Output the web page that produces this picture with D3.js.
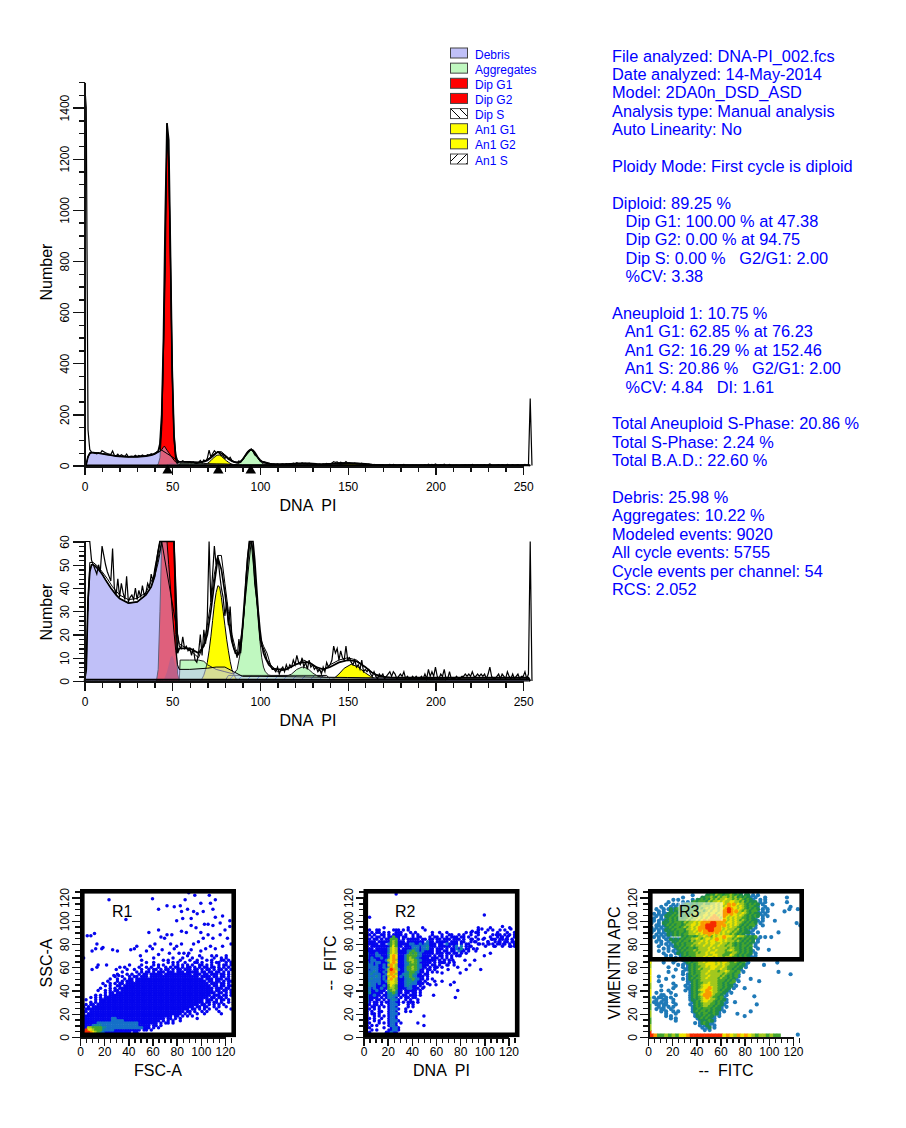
<!DOCTYPE html>
<html><head><meta charset="utf-8">
<script src="https://cdn.jsdelivr.net/npm/d3@7"></script>
<style>
html,body{margin:0;padding:0;background:#fff}
svg{display:block}
text{font-family:"Liberation Sans",Arial,sans-serif;fill:#000}
.axis path,.axis line{stroke:#111;stroke-width:1.4;shape-rendering:crispEdges}
.axis path{stroke-width:2}
</style></head><body>
<svg id="c" width="906" height="1128"></svg>
<script>
// ---------- histogram data ----------
const rawCounts = [
1500,1400,140,62,52,50,48,46,50,47, 58,54,50,47,45,43,57,40,37,44,
36,42,38,35,45,34,36,37,35,40, 35,39,36,41,37,38,42,40,46,43,
48,52,56,72,170,460,760,1340,1180,800, 370,120,42,20,15,14,19,14,15,13,
14,11,14,9,8,12,20,11,22,16, 28,60,34,46,58,50,54,46,40,36,
28,34,24,32,19,14,13,10,18,12, 22,30,44,54,60,65,56,42,36,30,
18,15,14,12,9,8,7,5,5,4, 6,3,5,6,4,7,5,7,6,9,
7,11,8,7,10,6,8,5,9,6, 7,5,6,4,5,3,6,4,8,6,
7,9,15,12,14,9,13,10,9,15, 9,10,8,7,9,6,7,5,9,4,
5,4,5,3,2,4,2,1,3,2, 3,1,2,3,4,2,4,3,1,2,
3,2,4,1,2,1,1,2,1,2, 1,1,2,1,3,1,5,2,4,2,
6,2,1,3,2,5,1,1,4,1, 1,1,2,1,1,2,2,3,2,3,
2,4,2,2,3,2,3,2,3,1, 3,6,2,1,1,2,3,1,3,2,
1,4,2,1,3,1,2,3,1,2, 2,4,1,3,262,0];
const debris = [[0,0],[1,5],[2,35],[3,47],[4,50],[5,50],[6,49.5],[8,48],[10,46],[12,43.5],[15,40],[18,37],[20,35.5],[25,33.5],[30,34],[35,37],[38,40.5],[40,45],[42,51],[43,55],[44,62],[45,72],[45.5,76],[47,60],[48,50],[49,40],[50,30],[51,21],[52,13],[53,7],[54,5],[60,5],[70,5.5],[75,6],[80,6],[85,4],[90,2],[100,2],[150,1.5],[200,1],[253,1],[254,0]];
const aggregates = [[54,0],[54.5,9],[60,9],[65,9],[68,8.5],[70,7],[75,5],[80,4],[85,3],[87,5],[88,9],[89,13],[90,20],[91,30],[92,40],[93,50],[94,58],[95,61],[96,57],[97,48],[98,37],[99,26],[100,17],[101,10],[102,6],[103,4],[105,2.5],[110,2],[115,2],[118,3],[121,5],[124,6],[127,5.5],[130,3.5],[133,2],[138,1.5],[170,1],[205,1],[206,0]];
const aggregateBump = [[45,0],[46,2],[47,4],[48,7],[49,10],[50,11],[51,9],[52,6],[53,3],[54,0]];
const dipG1 = [[41,0],[42,5],[43,30],[44,140],[45,430],[46,897],[47,1263],[48,1207],[49,778],[50,340],[51,100],[52,20],[53,3],[54,0]];
const anG1 = [[66,0],[67,1],[68,2.5],[69,5],[70,8],[71,13],[72,19],[73,26],[74,33],[75,38],[76,41],[77,40.5],[78,36],[79,30],[80,24],[81,18],[82,13],[83,8.5],[84,5],[85,3],[86,1.5],[87,0]];
const anG2 = [[138,0],[142,1],[145,3],[148,5.5],[152,7.2],[156,6],[160,3.5],[163,2],[168,0]];
const anS = [[80,0],[82,2.4],[90,2.4],[100,2.4],[120,2.4],[138,2.4],[141,0]];
const fitLine = [[0,0],[1,5],[2,35],[3,47],[4,50],[5,50],[6,49.5],[8,48],[10,46],[12,43.5],[15,40],[18,37],[20,35.5],[25,33.5],[30,34],[35,37],[38,40.5],[40,45],[42,56],[43,85],[44,200],[45,496],[46,969],[47,1339],[48,1273],[49,826],[50,372],[51,120],[52,32],[53,12],[54,14],[55,14],[60,14],[65,12],[68,15],[70,20],[72,30],[74,42],[76,53],[78,48],[80,38],[82,26],[84,17],[86,12],[88,12],[89,16],[90,23],[91,33],[92,43],[93,53],[94,60],[95,62],[96,60],[97,52],[98,41],[99,30],[100,22],[101,16],[102,12],[103,10],[105,7],[107,5.5],[110,5],[115,5],[120,7],[124,8],[128,8],[132,6],[136,5],[140,6],[145,8],[150,9],[155,8.5],[160,6],[164,3.5],[168,2],[175,1.5],[253,1.5],[254,0]];
const smoothLine = [[2,30],[3,51],[5,51],[8,49],[10,47],[13,44],[16,40.5],[20,37],[25,35],[30,35.5],[35,38],[40,46],[44,60],[54,16],[58,14],[62,12],[65,10],[68,16],[70,24],[72,34],[74,46],[76,54],[78,54],[80,42],[82,30],[84,20],[86,14],[88,11],[90,23],[95,62],[100,19],[102,15],[104,12],[106,7],[110,4],[115,5],[120,7],[125,9],[130,7],[135,4],[140,7],[145,9],[150,10],[155,9],[160,6],[165,3],[170,2]];
const peakMarkers = [47.38,76.23,94.75];
const topTicksMajor = [0,200,400,600,800,1000,1200,1400];
const lowTicksMajor = [0,10,20,30,40,50,60];
const chTicksMajor = [0,50,100,150,200,250];
const legendNames = ["Debris","Aggregates","Dip G1","Dip G2","Dip S","An1 G1","An1 G2","An1 S"];
const legendFills = ["#c0c0f8","#c0f8c0","#ff0000","#ff0000","url(#hatchB)","#ffff00","#ffff00","url(#hatchF)"];
const reportLines = ["File analyzed: DNA-PI_002.fcs","Date analyzed: 14-May-2014","Model: 2DA0n_DSD_ASD","Analysis type: Manual analysis","Auto Linearity: No","","Ploidy Mode: First cycle is diploid","","Diploid: 89.25 %","   Dip G1: 100.00 % at 47.38","   Dip G2: 0.00 % at 94.75","   Dip S: 0.00 %   G2/G1: 2.00","   %CV: 3.38","","Aneuploid 1: 10.75 %","   An1 G1: 62.85 % at 76.23","   An1 G2: 16.29 % at 152.46","   An1 S: 20.86 %   G2/G1: 2.00","   %CV: 4.84   DI: 1.61","","Total Aneuploid S-Phase: 20.86 %","Total S-Phase: 2.24 %","Total B.A.D.: 22.60 %","","Debris: 25.98 %","Aggregates: 10.22 %","Modeled events: 9020","All cycle events: 5755","Cycle events per channel: 54","RCS: 2.052"];

// ---------- scatter data: one row per y value, each character one dot at x=1,3,5...
const levelColors = {b:"#0505ee",l:"#1570c8",t:"#128a98",s:"#1f7ab8",d:"#1e8c4c",g:"#45a52e",h:"#a3c81e",y:"#ece400",o:"#fa9a00",r:"#f52a00"};
const levelRank = {b:0,s:0,l:1,t:1,d:2,g:2,h:2,y:2,o:3,r:4};
const r1Rows = {
70:"............................................b....b....b.b...b..b",
68:"..............................b.......b...b...b...b....b..b.b...",
66:".........................b........b.b....b...b..b...b.b...bb.b.b",
64:"...........................b..b.....b.b.b..b...bb.b...b.bb..b.b.",
62:"....................b....b....b.b.b...b.b.b.b.b..bb.b.b..b.bb.b",
60:"........................b..b.b..b..b.b.bb.b.bb.b.b.bb.bb.b.b.b.b",
58:"...................b..b..b..b.bb.b.bb.b.bb.bbb.bb.b.bb.b.bb.b.bb",
56:".................b.....b.b.bb.b.bbb.bbb.bbb.bbbbb.bb.bb.bb.b.b.b",
54:"...............b...b.b..b.bb.bbbbb.bbbbbbbbbbb.bbb.bb.bbb.bb.b.b",
52:"..............b..b..b.bb.bbb.bbbbbbbbbbbbbbbbbbbb.bbbb.bb.bb.b.b",
50:"............b..b..b.bb.bbbbbbbbbbbbbbbbbbbbbbbbbbbb.bbb.bbb.bb.b",
48:"...........b...b.b.bbb.bbbbbbbbbbbbbbbbbbbbbbbbbbbbb.bb.bb.b.bb.",
46:".........b..b.b.bb.bbbbbbbbbbbbbbbbbbbbbbbbbbbbbbbbbb.bbb.bb.b.b",
44:"..........b.b..bb.bbbbbbbbbbbbbbbbbbbbbbbbbbbbbbbbbbbb.bb.bb.bb.",
42:"........b...b.b.bbbbbbbbbbbbbbbbbbbbbbbbbbbbbbbbbbbbbbb.bbb.bb.b",
40:".......b..b.b.bb.bbbbbbbbbbbbbbbbbbbbbbbbbbbbbbbbbbbbbb.bb.bb.b.",
38:"..........b.bb.bbbbbbbbbbbbbbbbbbbbbbbbbbbbbbbbbbbbbbbbb.bb.b.bb",
36:"......b.b.b.bbbbbbbbbbbbbbbbbbbbbbbbbbbbbbbbbbbbbbbbbb.bbb.bb.b.",
34:"....b.b.b.bbbbbbbbbbbbbbbbbbbbbbbbbbbbbbbbbbbbbbbbbbb.bb.bb.b..b",
32:"b.b...b.bbbbbbbbbbbbbbbbbbbbbbbbbbbbbbbbbbbbbbbbbbb.bbb.b.bb.b..",
30:"b...b.b.bbbbbbbbbbbbbbbbbbbbbbbbbbbbbbbbbbbbbbbbbbb.bb.bb.b..b.b",
28:"b.b.bb.bbbbbbbbbbbbbbbbbbbbbbbbbbbbbbbbbbbbbbbbbb.bb.b.b.b.b...b",
26:"bb.b.bbbbbbbbbbbbbbbbbbbbbbbbbbbbbbbbbbbbbbbbbb.bb.bb..b.b..b...",
24:"b.bbbbbbbbbbbbbbbbbbbbbbbbbbbbbbbbbbbbbbbbbbb.bb.b.b.b..b.....b.",
22:"bbb.bbbbbbbbbbbbbbbbbbbbbbbbbbbbbbbbbbbbbbb.bb.b..b.b....b......",
20:"bb.bbbbbbbbbbbbbbbbbbbbbbbbbbbbbbbbbbbbbbb.b.b..b..b......b.....",
18:"bbbbbbbbbbbbbbbbbbbbbbbbbbbbbbbbbbbbbb.bb.b.b.b.................",
16:"bbbbbbbbbbbbbllbbbbbbbbbbbbbbbbbbbb.bb.b.b......b...............",
14:"bbbbbbbbbbbbblllllbbbbbbbbbbbbbbb.b.b.b..b......................",
12:"bbbbbbblllllllllllllllllbbbbbbbb.b.bb.b.........................",
10:"bbbbbltttlllllllllllllllbbbbb.bb.b..............................",
8:"bbbhhggggttlllllllllllllllbbb.b.b...............................",
6:"bbryyhgggtllllbbbbbbbbbbb.bb.b...................................",
4:"brrroyhgtlbbbbbbbbbbb.bb........................................",
2:".rrrobb.b..b.b.b................................................"};
const r1Points = [[24,118],[38,101],[6,87],[9,87],[12,89],[14,80],[10,74],[13,76],[18,76],[19,77],[27,75],[31,74],[42,75],[45,76],[47,78],[3,68],[15,62],[22,62],[10,58],[14,60],[30,58],[33,60],[37,60],[28,53],[32,53],[50,70],[55,74],[58,78],[60,76],[65,71],[68,75],[62,80],[57,90],[65,92],[67,86],[70,85],[72,88],[75,80],[78,76],[80,78],[84,80],[86,72],[90,72],[74,72],[82,72],[92,75],[94,80],[98,82],[102,85],[106,88],[110,85],[116,88],[120,92],[124,95],[118,78],[112,76],[108,78],[104,76],[100,74],[122,85],[125,80],[110,96],[106,97],[103,97],[100,90],[96,94],[92,96],[88,90],[84,91],[80,100],[76,88],[85,102],[92,102],[97,106],[94,108],[89,110],[84,108],[102,108],[108,115],[110,110],[112,118],[107,122],[100,115],[95,122],[90,124],[87,118],[83,113],[78,112],[72,113],[65,110],[60,119],[112,103],[118,104],[124,100],[116,98],[94,2]];
const r2Rows = {
96:"b...............................................................",
94:"b.......b.........b.....b......................b....b.......b...",
92:"b.b..bb.....bbb.b.b......b.....................b...b.b..b.b.....",
90:".b.b.bb.b.b..bbb...b.b......b..b..b.......b.b.bb..b....b...b..b.",
88:"b.b.b..bb.b.bbbb.b..b.b.....b...b..bb..b.b..b..b.....b.bb.b.b.b.",
86:"bb.b.bb.b.bbgbb.bb..b.bb...b.bb.b.b.bbb.bb.b..b.....b..b.b.b..bb",
84:"bbb.bb.b.bbgggb.b.bbbbb.bb.bb.bb.bbb.bbb.b..b..b.b...bb.bb.b.b.b",
82:"b.bbb.bbbbbghgbbb.bbbbbbb.lbb.bbbbb.bbb.bb..b.b....b..b.b.bb.b.",
80:"bbbbbb.bb.lghgbbbbbllbblbllbbb.bb.lbbbb.b.bb...b.b.b.b.bb.b.b.b.",
78:"bb.bbbbbbbbgygbb.bbblllblltbbb.bbbbb.bl.l.b.b.....b...b..b..b.b.",
76:"bbbb.bbbbblhyhb.bbbbltlblltbb.bbb.b.bblbt.bb.b..................",
74:"lbbbbbbbbblhyhbbbbltgtlblbbbb.bb.bb.bb.lbb.b..b.................",
72:"llbbblbbbbthyhbbbblgtgtlbbbbb.bbb.bb.bb.b.b.....................",
70:"tlbbbllbbblyoybbblggggtlbbbb.b.bb.b.b.bb........................",
68:"llblbbblbbtyoybbblghgtlbbbb.bbb.b.b.b...........................",
66:"lbbllbbbblhyohbbblghhgtlbbbbbb.b.b.b............................",
64:"ltblbllbbbtyoybbbltghgtbbbbb.b.bbb.b.b..........................",
62:"ltllblbblbhoyhbbbltgggtlbbb.bb.b..b..b..........................",
60:"tlllllbblbtoyhbbblgghgtlbb.b.bb.b...............................",
58:"tlblllbbblhrohlbblgghgtbb.bb.b..................................",
56:"rllltlbblbhooybbbltggtlbb.b.b.b.................................",
54:"rlltlllbblyoyhbblttgttbb.bb.....................................",
52:"olllltlblbhyoyblbttgtlbbb.b.....................................",
50:"llltlllblbyoyhbbblttgtlbb.b.b...................................",
48:"tllllllbblhyyhbbbltttlbb.b...b..................................",
46:"lltllblbbbhyyhbbblttllb.b.b.....................................",
44:"lltllbbblbgyhgbbbltlbb.b........................................",
42:"tllblbblbbghhgbbbbllbbb.b.......................................",
40:"lllbblbbb.tghtbb.bbbbb.b........................................",
38:"lltbbbbb.bttgtbb.bb.bb.b........................................",
36:"llbblbb.bblttlb.bb.bbb.b........................................",
34:"llbbbb.b.bltlb.b.bb.bb..........................................",
32:"ltbb.bb.b.bltlb..b.b..b.........................................",
30:"llb.bb.b.bbllbb.b.bbb.b.........................................",
28:"lbb.bb.b..blllb...b.b...........................................",
26:"lb.bb.b.b.bllb....b.b...........................................",
24:"lbb.b.b...blllb..b..............................................",
22:"bb.b..bb..bllb...b.b............................................",
20:"bb.bb.b...blllb.................................................",
18:"bb..b.b.b.bllb..................................................",
16:"b.b.b..b..bllb..................................................",
14:"bb..b.b...blllb.................................................",
12:"b.b...b.b.bllb.b......b.........................................",
10:"bb.b.b....bllb..................................................",
8:"b.b.....b..bllb.................................................",
6:"b..b.b....bbllb.................................................",
4:"b.b......bblbb..................................................",
2:"...........bb..................................................."};
const r2Points = [[27,123],[5,103],[100,105],[50,18],[50,10],[47,46],[50,43],[58,36],[55,45],[60,45],[65,48],[72,45],[75,47],[78,40],[76,34],[97,58],[80,55],[70,58],[65,55],[85,58],[88,62],[92,66],[100,70],[105,72],[110,88],[114,86],[118,84],[112,82],[106,84],[103,82],[100,85],[96,80],[92,82],[88,78],[90,84],[120,87],[124,82],[122,78],[116,80],[108,78],[104,80],[94,76],[60,60],[66,64],[70,62],[74,66],[80,70],[82,75],[78,60],[84,66],[115,95],[122,93],[98,93],[95,92],[90,91]];
const r3Rows = {
124:"..........................dgdgdgdd.d..s.........................",
122:"..................s.....ddgdhggdgghgdgd.dd.s.s..................",
120:"..............s.......ddgghgdhghhghghdgdgds.s...s........s.......",
118:"..........s.s.....s.ddgdgdhghghhyhhghghgdgds..s.s................",
116:"........s.....s.s.dgdgggdhghhyhyhhyyhhghdgddd.s.s........s.......",
114:".......s..s.s.sdgsdgdgghgghhyhyyhoyohyhhgdgdgd.s...s.............",
112:".....s...s.s.dgdgdggdghhhhyhyhyhyoyyyhyhgdggds..s................",
110:"...s..s.sdsdgdgdgddgdhghyhyhyhyyoroyyhyhgdgdgd.s.s........s......",
108:"....s.s..dsdsgdgdgggdhhghyhyyhyooroyoyhghgdggs.s.s...............",
106:"..s.s.ssdsdgdgdggdghhghhyhyyhyyooyoyyhhyhgdgdds.s................",
104:"...s.s.dsdgdgggdgghhghhyyhyoyhyoyyhyyhyhgdgdgd.s.s...............",
102:"..s..s.sdgdgdgdgghghhyhyhyoyoyhyyhyhyhhggdgds..s................",
100:"s.s.s.sdsgdgdggghghhyhyoyoooooyoyhyhyhghgdgdds.s.................",
98:".s..s.dsdgdgggdhghhyhyoyoorroooyhyyhyhhgdgdgd.s..............s...",
96:"s..ss.sdgdgdggdghhyyhyoorrrrooyoyhyhyhgdgdggs..s.................",
94:".s.s.s.sdgdggdghghyhyooorrroooyhyhyhhgdgdgd.s....................",
92:"..s.s.sdsdgdgggdhhyhyoyoorroooyhyhhhghdgds.s.....................",
90:".s..s.s.dsdgdggdghhyhyyooooyoyhyhyhghgdgdds..s...................",
88:"...s.s.sdsdgdgdgghhhyhyhyoyyhyhyhhghgdgd.s.s.....................",
86:"..s.s.s.s.....dgdggdghhyhhgyhyyoyyyhgyhhgdgdg.s.s",
84:"....s..s.dsdsdgdgghhyhghyyhyoyyhyhhghgdgdgdd.s",
82:"...s.s..s.dsdgdggdhghhyhyhyyhyyhyhhhghgdgdgd.s",
80:".....s.s.s.dgdgdggghhyhhyhyyhhyhhghgdgdgdgd.s",
78:"....s...s.sdsdgdgghghhhyhhyhhyhhghhgdgdggdg.s",
76:"......s.s..sdgdgdggdghhhhyhyhhhhhghhggdgdgd..s",
74:"....s...s.s.sdgdggghghhhhyhhyhhhghyhggdgdgds",
72:"......s....sdsdgdggghghhyhyyhhhhggghhgdgdgd.s",
70:".......s.s...sdgdggghhhhyhhyyhhgggyhgdgdgds.s",
68:".........s.s.s.dgdgghhhyhyyhyhhghhhggdgdgd.s",
66:"...........s..sdsdgghghyhhyyyhhgyhgghgdgds",
64:"......s...s....sdgdgghhyhyyyhyhyyhgghgdg.s...........s",
62:"............s.s.sdgdghhhyyyyhyhyhhgggdgds",
60:"........s.....s.sdgdgghhyhyyyhhyhgggdgd.s",
58:"...........s...ssdgdghghhhyyhhyhhggdgds",
56:"........s.....s..dgdgghhhyhhhghhyhggdg.s",
54:"..............s.sdgdgghhyhhhhhhghggdgs",
52:"....s.....s.....sdsgdghhhyhhhhghgdgdgs",
50:".......s......s.sdgdgghhyhhhhghggdgds",
48:"....s...........ssdgdghhhhhhhgggdgdg.s",
46:"..........s.....s.dgdgghhyhhhggdgdgs",
44:".....s.....s...s.sdgdghyyyhhhggdgdd.s",
42:"..........s.....ssdgdghyyoyhhggdgd.s",
40:".....s..s......s.sdgdhyyoyyhhgdgds",
38:"...s.....s.......sdgdghyooyhhggds.s",
36:".....ss....s.....sdgdhyoooyhggd.s",
34:"..s.ss.s.s.......sdgdghyoyhggdgs",
32:"...s..ss..s......sdsdghyyyhhgdgds",
30:"..ss.s.s..s.......sdgdhyyhhgdgd.s",
28:"...ss.ss...s.....s.dgdghhhggdgds",
26:"....s.s.s.s.......sdgdghhggdgds.s",
24:"...s.ss..s........sdsgdgggdgdds",
22:".....s.s..s.s.....sdgdggdgdgds.s",
20:".......s...s.......sdgdggddgds",
18:".......s.s.........sdsdgdgds.s",
16:".........s.s........sdgdgdss",
14:"...........s.........sdsdgds",
12:"...................s.sdgdss",
10:".....................s.sds.s",
8:"......................s.sd.s",
6:".......................s.s"};
const r3Points = [[113,108],[118,112],[124,110],[126,96],[105,100],[108,90],[102,86],[100,75],[96,62],[108,56],[118,54],[92,48],[88,35],[90,28],[80,18],[72,30],[80,42],[85,50],[85,22],[74,20],[124,2]];
const r3LeftBar = [[3,"r"],[8,"h"],[14,"g"],[20,"h"],[26,"g"],[32,"h"],[38,"y"],[44,"h"],[50,"y"],[56,"y"],[62,"h"],[66,"y"],[70,"r"],[75,"r"],[80,"r"],[85,"r"],[90,"r"],[95,"r"],[100,"r"],[105,"r"],[110,"r"],[115,"g"],[120,"g"]];
const r3BottomBar = [[3,"r"],[6,"o"],[9,"g"],[12,"g"],[15,"h"],[18,"g"],[21,"h"],[24,"g"],[27,"y"],[30,"y"],[33,"o"],[36,"r"],[39,"r"],[42,"r"],[45,"r"],[48,"r"],[51,"r"],[54,"r"],[57,"r"],[60,"r"],[63,"y"],[66,"o"],[69,"y"],[72,"h"],[75,"o"],[78,"y"],[81,"o"],[84,"y"],[87,"h"],[90,"g"],[93,"h"],[96,"h"],[99,"g"],[102,"h"],[105,"g"],[108,"g"]];
const scatterTicks = [0,20,40,60,80,100,120];

// ---------- drawing ----------
const svg = d3.select("#c");
const defs = svg.append("defs");
function hatch(id,d,col){
  defs.append("pattern").attr("id",id).attr("width",9).attr("height",9).attr("patternUnits","userSpaceOnUse")
    .append("path").attr("d",d).attr("stroke",col).attr("stroke-width",1).attr("fill","none");
}
hatch("hatchB","M0,0L9,9M-9,0L9,18M0,-9L18,9","#000");
hatch("hatchF","M0,9L9,0M-9,9L9,-9M0,18L18,0","#000");
hatch("hatchPlot","M0,9L9,0M-9,9L9,-9M0,18L18,0","#2050d0");

const x = d3.scaleLinear().domain([0,250]).range([84.5,523.2]);
const minorX = d3.range(0,256,10).filter(v=>v%50);

function histogram(name,yTop,yBase,maxV,majorY,minorStep,labelY){
  const y = d3.scaleLinear().domain([0,maxV]).range([yBase,yTop]).clamp(true);
  const g = svg.append("g").attr("class",name);
  const area = d3.area().x(d=>x(d[0])).y0(y(0)).y1(d=>y(d[1]));
  const line = d3.line().x(d=>x(d[0])).y(d=>y(d[1]));
  const fill = (data,color,op,stroke)=>g.append("path").attr("d",area(data)).attr("fill",color)
     .attr("fill-opacity",op).attr("stroke",stroke||"none").attr("stroke-width",1);
  fill(debris,"#c0c0f8",1);
  fill(aggregates,"#c0f8c0",1);
  fill(dipG1,"#ff0000",1,"#000");
  fill(aggregateBump,"#a80020",0.75);
  fill(anG1,"#ffff00",1,"#000");
  fill(anG2,"#ffff00",1,"#000");
  fill(anS,"url(#hatchPlot)",1,"#000");
  fill(aggregates,"#c0f8c0",0.25,"#222");
  fill(debris,"#c0c0f8",0.5,"#000");
  g.append("path").attr("d",d3.line().x((d,i)=>x(i)).y(d=>y(d))(rawCounts)).attr("fill","none").attr("stroke","#000").attr("stroke-width",1.2);
  g.append("path").attr("d",line(smoothLine)).attr("fill","none").attr("stroke","#000").attr("stroke-width",1);
  g.append("path").attr("d",line(fitLine)).attr("fill","none").attr("stroke","#000").attr("stroke-width",1.7);
  g.append("line").attr("x1",x(0)).attr("x2",x(254)).attr("y1",y(0.6)).attr("y2",y(0.6)).attr("stroke","#000").attr("stroke-width",1.6);

  const ax = g.append("g").attr("class","axis").attr("transform",`translate(0,${yBase+0.5})`);
  ax.call(d3.axisBottom(x).tickValues(chTicksMajor).tickSize(9).tickPadding(7).tickSizeOuter(0));
  ax.selectAll("text").attr("font-size",12).attr("fill","#000");
  g.append("g").attr("class","axis").attr("transform",`translate(0,${yBase+0.5})`)
    .call(d3.axisBottom(x).tickValues(minorX).tickSize(6).tickFormat("").tickSizeOuter(0)).select("path").remove();

  const ay = g.append("g").attr("class","axis").attr("transform",`translate(84.5,0)`);
  ay.call(d3.axisLeft(y).tickValues(majorY).tickSize(12).tickFormat(d3.format("d")).tickSizeOuter(0));
  ay.selectAll("text").attr("font-size",12).attr("fill","#000").attr("x",0).attr("y",0).attr("dy",0)
    .attr("text-anchor","middle").attr("transform","translate(-15.5,0) rotate(-90)");
  g.append("g").attr("class","axis").attr("transform",`translate(84.5,0)`)
    .call(d3.axisLeft(y).tickValues(d3.range(0,maxV+0.1,minorStep).filter(v=>!majorY.includes(v))).tickSize(6).tickFormat("").tickSizeOuter(0)).select("path").remove();

  g.append("text").attr("x",308).attr("y",yBase+45).attr("text-anchor","middle").attr("font-size",16).attr("xml:space","preserve").style("white-space","pre").text("DNA  PI");
  g.append("text").attr("transform",`translate(52,${labelY}) rotate(-90)`).attr("text-anchor","middle").attr("font-size",16).text("Number");
  return y;
}
histogram("top",82,465.5,1500,topTicksMajor,50,272);
histogram("low",541.5,681,60,lowTicksMajor,2,612);

svg.append("g").selectAll("path").data(peakMarkers).join("path")
  .attr("d",d3.symbol(d3.symbolTriangle,48)()).attr("fill","#000")
  .attr("transform",d=>`translate(${x(d)},${470.5})`);

// legend
const leg = svg.append("g");
const legY = d3.scalePoint().domain(legendNames).range([53,159]);
leg.selectAll("rect").data(legendNames).join("rect").attr("x",450.5).attr("y",d=>legY(d)-5).attr("width",17).attr("height",10)
  .attr("fill",(d,i)=>legendFills[i]).attr("stroke","#444").attr("stroke-width",1);
leg.selectAll("text").data(legendNames).join("text").attr("x",475).attr("y",d=>legY(d)+5.5).attr("font-size",12).style("fill","#0000ff").text(d=>d);

// report
const repY = d3.scaleLinear().domain([0,reportLines.length-1]).range([61.5,595]);
svg.append("g").selectAll("text").data(reportLines).join("text").attr("x",612).attr("y",(d,i)=>repY(i))
  .attr("font-size",16.35).attr("xml:space","preserve").style("white-space","pre").style("fill","#0000ff").text(d=>d);

// scatter plots
function scatter(o){
  const sx = d3.scaleLinear().domain([0,120]).range([o.x0,o.x0+145]);
  const sy = d3.scaleLinear().domain([0,120]).range([1037,897.5]);
  const g = svg.append("g");
  const id = "clip"+Math.round(o.x0);
  defs.append("clipPath").attr("id",id).append("rect").attr("x",o.x0).attr("y",889).attr("width",156).attr("height",148);
  const pts = g.append("g").attr("clip-path",`url(#${id})`);
  const dots=(data,r)=>pts.append("g").selectAll("circle").data(data).join("circle")
     .attr("cx",d=>sx(d[0])).attr("cy",d=>sy(d[1])).attr("r",r).attr("fill",d=>levelColors[d[2]]);
  const cells=[];
  Object.keys(o.rows).map(Number).sort((a,b)=>b-a).forEach(y=>{
    [...o.rows[y]].forEach((ch,i)=>{ if(ch!==".") cells.push([1+2*i,y,ch]); });
  });
  dots(o.points.map(p=>[p[0],p[1],o.pointLevel]),o.r);
  cells.sort((a,b)=>levelRank[a[2]]-levelRank[b[2]]);
  dots(cells,o.r);
  if(o.after) o.after(pts,sx,sy);
  const ax = g.append("g").attr("class","axis").attr("transform","translate(0,1037.5)");
  ax.call(d3.axisBottom(sx).tickValues(scatterTicks).tickSize(8).tickPadding(2).tickSizeOuter(0));
  ax.selectAll("text").attr("font-size",12).attr("fill","#000");
  g.append("g").attr("class","axis").attr("transform","translate(0,1037.5)")
    .call(d3.axisBottom(sx).tickValues(d3.range(0,126,5).filter(v=>v%20)).tickSize(5).tickFormat("").tickSizeOuter(0)).select("path").remove();
  const ay = g.append("g").attr("class","axis").attr("transform",`translate(${o.x0},0)`);
  ay.call(d3.axisLeft(sy).tickValues(scatterTicks).tickSize(8).tickSizeOuter(0));
  ay.selectAll("text").attr("font-size",12).attr("fill","#000").attr("x",0).attr("y",0).attr("dy",0).attr("text-anchor","middle")
    .attr("transform","translate(-11,0) rotate(-90)");
  g.append("g").attr("class","axis").attr("transform",`translate(${o.x0},0)`)
    .call(d3.axisLeft(sy).tickValues(d3.range(0,126,5).filter(v=>v%20)).tickSize(5).tickFormat("").tickSizeOuter(0)).select("path").remove();
  g.append("rect").attr("x",o.box[0]).attr("y",o.box[1]).attr("width",o.box[2]).attr("height",o.box[3]).attr("fill","none").attr("stroke","#000").attr("stroke-width",4.6);
  g.append("text").attr("x",o.labelX).attr("y",917).attr("font-size",16).text(o.label);
  g.append("text").attr("x",o.x0+78).attr("y",1076).attr("text-anchor","middle").attr("font-size",16).attr("xml:space","preserve").style("white-space","pre").text(o.xLabel);
  g.append("text").attr("transform",`translate(${o.x0-28},963) rotate(-90)`).attr("text-anchor","middle").attr("font-size",16).attr("xml:space","preserve").style("white-space","pre").text(o.yLabel);
}
scatter({x0:80,rows:r1Rows,points:r1Points,pointLevel:"b",r:1.75,box:[82.3,891.3,151.4,143.5],label:"R1",labelX:112,xLabel:"FSC-A",yLabel:"SSC-A"});
scatter({x0:363.5,rows:r2Rows,points:r2Points,pointLevel:"b",r:1.75,box:[365.8,891.3,151.4,143.5],label:"R2",labelX:395,xLabel:"DNA  PI",yLabel:"--  FITC"});
scatter({x0:648,rows:r3Rows,points:r3Points,pointLevel:"s",r:2.1,box:[650.3,891.3,151.4,68],label:"R3",labelX:679,xLabel:"--  FITC",yLabel:"VIMENTIN APC",
  after:(pts,sx,sy)=>{
    pts.append("g").selectAll("rect").data(r3LeftBar).join("rect").attr("x",sx(0)).attr("width",3.5).attr("y",d=>sy(d[0]+3)).attr("height",sy(0)-sy(6)).attr("fill",d=>levelColors[d[1]]);
    pts.append("g").selectAll("rect").data(r3BottomBar).join("rect").attr("y",sy(3)).attr("height",sy(0)-sy(3)).attr("x",d=>sx(d[0]-1.5)).attr("width",sx(3)-sx(0)+0.5).attr("fill",d=>levelColors[d[1]]);
    pts.append("rect").attr("x",sx(25)).attr("y",sy(116)).attr("width",sx(62)-sx(25)).attr("height",sy(100)-sy(116)).attr("fill","#fff").attr("fill-opacity",0.5);
  }});
</script></body></html>
